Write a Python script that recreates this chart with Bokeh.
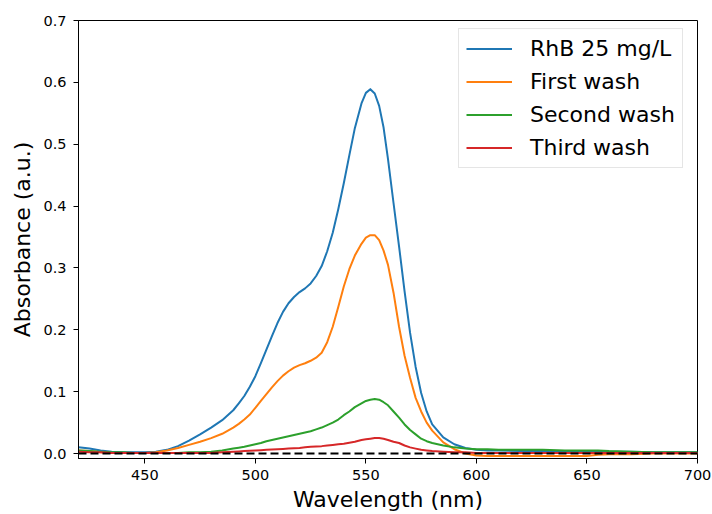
from bokeh.plotting import figure
from bokeh.models import FixedTicker, PrintfTickFormatter, Range1d, Legend, LegendItem, Span
from bokeh.embed import file_html
from bokeh.resources import INLINE

wavelength = [420, 425, 430, 435, 440, 445, 450, 455, 460, 465, 470, 475, 480, 485, 490,
              492.5, 495, 497.5, 500, 502.5, 505, 507.5, 510, 512.5, 515, 517.5, 520, 522.5,
              525, 527.5, 530, 532.5, 535, 537.5, 540, 542.5, 545,
              548, 550, 552, 554, 556, 558, 560,
              562.5, 565, 567.5, 570, 572.5, 575, 577.5, 580,
              585, 590, 595, 600, 605, 610,
              620, 630, 640, 650, 655, 660,
              670, 680, 690, 700]

rhb_25 = [0.010, 0.008, 0.005, 0.003, 0.002, 0.002, 0.002, 0.003, 0.006, 0.012, 0.021, 0.031, 0.042, 0.054, 0.070,
          0.081, 0.093, 0.108, 0.125, 0.146, 0.168, 0.190, 0.211, 0.229, 0.243, 0.253, 0.261, 0.267,
          0.275, 0.287, 0.303, 0.327, 0.357, 0.395, 0.437, 0.482, 0.526,
          0.566, 0.583, 0.589, 0.582, 0.562, 0.527, 0.476,
          0.405, 0.335, 0.262, 0.195, 0.140, 0.098, 0.068, 0.047,
          0.026, 0.015, 0.009, 0.006, 0.005, 0.005,
          0.004, 0.004, 0.004, 0.004, 0.003, 0.003,
          0.003, 0.002, 0.002, 0.002]

first_wash = [0.005, 0.004, 0.002, 0.001, 0.001, 0.001, 0.001, 0.002, 0.005, 0.009, 0.014, 0.019, 0.025, 0.032, 0.042,
              0.048, 0.055, 0.063, 0.074, 0.085, 0.096, 0.107, 0.117, 0.126, 0.133, 0.139, 0.143, 0.146,
              0.150, 0.155, 0.163, 0.180, 0.205, 0.237, 0.270, 0.298, 0.320,
              0.339, 0.349, 0.353, 0.353, 0.345, 0.328, 0.305,
              0.260, 0.205, 0.158, 0.122, 0.090, 0.068, 0.050, 0.037,
              0.018, 0.007, 0.000, -0.003, -0.004, -0.004,
              -0.004, -0.004, -0.004, -0.004, -0.002, -0.001,
              -0.001, 0.000, 0.000, 0.000]

second_wash = [0.005, 0.004, 0.003, 0.002, 0.002, 0.001, 0.001, 0.001, 0.001, 0.001, 0.002, 0.002, 0.003, 0.005, 0.008,
               0.0095, 0.011, 0.013, 0.015, 0.017, 0.020, 0.022, 0.024, 0.026, 0.028, 0.030, 0.032, 0.034,
               0.036, 0.039, 0.042, 0.046, 0.050, 0.055, 0.062, 0.068, 0.075,
               0.081, 0.085, 0.087, 0.088, 0.087, 0.083, 0.078,
               0.068, 0.058, 0.047, 0.038, 0.031, 0.024, 0.020, 0.017,
               0.013, 0.010, 0.008, 0.007, 0.007, 0.006,
               0.006, 0.006, 0.005, 0.005, 0.005, 0.004,
               0.003, 0.002, 0.002, 0.002]

third_wash = [0.003, 0.002, 0.002, 0.001, 0.001, 0.001, 0.001, 0.001, 0.001, 0.001, 0.001, 0.001, 0.001, 0.002, 0.003,
              0.0035, 0.004, 0.0045, 0.005, 0.0055, 0.006, 0.0065, 0.007, 0.0075, 0.008, 0.0085, 0.009, 0.010,
              0.011, 0.0115, 0.012, 0.013, 0.014, 0.015, 0.016, 0.0175, 0.019,
              0.022, 0.023, 0.024, 0.025, 0.025, 0.024, 0.022,
              0.019, 0.017, 0.013, 0.010, 0.008, 0.006, 0.005, 0.004,
              0.003, 0.002, 0.002, 0.001, 0.001, 0.001,
              0.001, 0.001, 0.001, 0.001, 0.001, 0.001,
              0.001, 0.001, 0.001, 0.001]

series_names = ["RhB 25 mg/L", "First wash", "Second wash", "Third wash"]
series_colors = ["#1f77b4", "#ff7f0e", "#2ca02c", "#d62728"]
x_ticks = [450, 500, 550, 600, 650, 700]
y_ticks = [0.0, 0.1, 0.2, 0.3, 0.4, 0.5, 0.6, 0.7]
baseline = 0.0

FONT = "DejaVu Sans"

p = figure(width=712, height=514, output_backend="svg", toolbar_location=None,
           x_range=Range1d(420, 700), y_range=Range1d(-0.008, 0.7),
           min_border_left=78, min_border_right=15, min_border_top=20, min_border_bottom=56)

p.background_fill_color = "white"
p.border_fill_color = "white"
p.outline_line_color = "black"
p.outline_line_width = 1
p.xgrid.visible = False
p.ygrid.visible = False

items = []
for ys, name, col in zip([rhb_25, first_wash, second_wash, third_wash], series_names, series_colors):
    r = p.line(wavelength, ys, line_color=col, line_width=2, line_join="round")
    items.append(LegendItem(label=name, renderers=[r]))

span = Span(location=baseline, dimension="width", line_color="black", line_dash="8 4", line_width=2)
p.add_layout(span)

for ax in [p.xaxis[0], p.yaxis[0]]:
    ax.axis_line_color = "black"
    ax.major_tick_line_color = "black"
    ax.minor_tick_line_color = None
    ax.major_tick_out = 5
    ax.major_tick_in = 0
    ax.major_label_text_font = FONT
    ax.major_label_text_font_size = "14.5px"
    ax.major_label_text_color = "black"
    ax.axis_label_text_font = FONT
    ax.axis_label_text_font_size = "22px"
    ax.axis_label_text_font_style = "normal"
    ax.axis_label_text_color = "black"

p.xaxis[0].ticker = FixedTicker(ticks=x_ticks)
p.yaxis[0].ticker = FixedTicker(ticks=y_ticks)
p.yaxis[0].formatter = PrintfTickFormatter(format="%.1f")
p.xaxis[0].axis_label = "Wavelength (nm)"
p.yaxis[0].axis_label = "Absorbance (a.u.)"
p.xaxis[0].major_label_standoff = 6
p.yaxis[0].major_label_standoff = 7
p.xaxis[0].axis_label_standoff = 4
p.yaxis[0].axis_label_standoff = 5
p.xaxis[0].axis_label_text_line_height = 1.0
p.xaxis[0].major_label_text_line_height = 1.0

legend = Legend(items=items, location=(380, 290), margin=0,
                label_text_font=FONT, label_text_font_size="22px", label_text_color="black",
                glyph_width=46, glyph_height=25, label_height=25, label_standoff=18,
                spacing=8, padding=7,
                border_line_color="#cccccc", border_line_width=1,
                background_fill_color="white", background_fill_alpha=0.8)
p.add_layout(legend, "center")

open("out.html", "w").write(file_html(p, INLINE))
